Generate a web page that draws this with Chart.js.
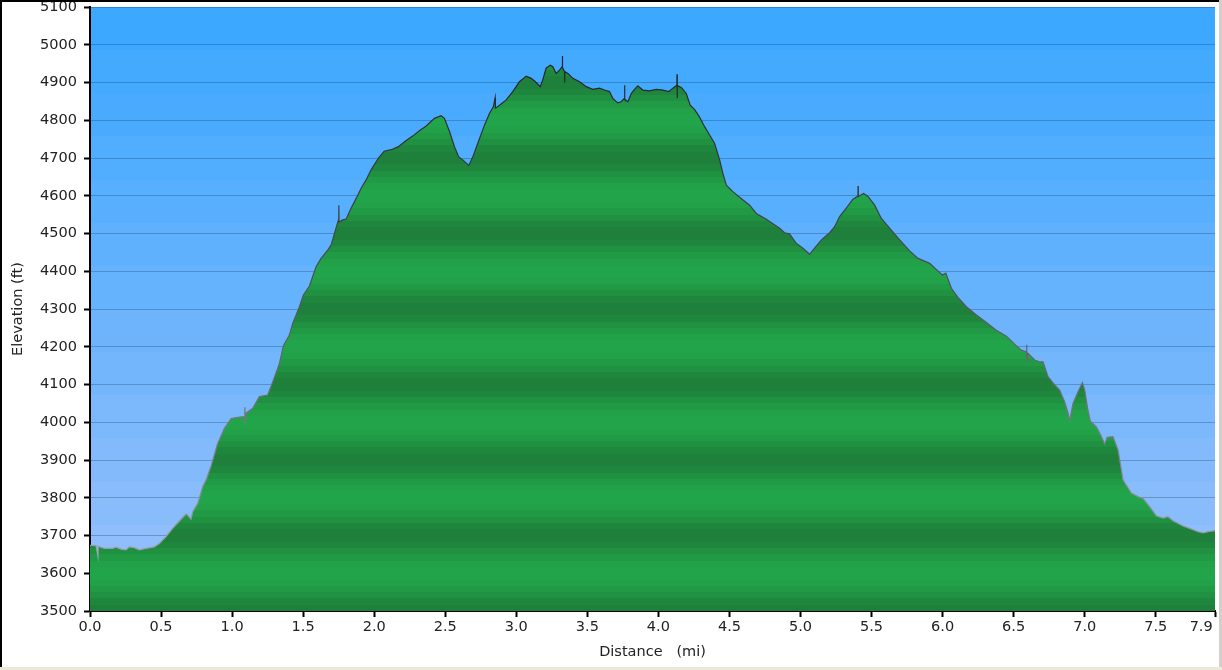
<!DOCTYPE html>
<html>
<head>
<meta charset="utf-8">
<script src="https://cdn.jsdelivr.net/npm/chart.js@4.4.1/dist/chart.umd.min.js"></script>
<style>
html,body{margin:0;padding:0;background:#fff;overflow:hidden}
#wrap{width:1222px;height:670px;position:relative}
canvas{display:block}
</style>
</head>
<body>
<div id="wrap"><canvas id="c" width="1222" height="670"></canvas></div>
<script>
// ---- data (distance in miles, elevation in feet) ----
const distanceMi = [
  0.000,0.042,0.056,0.058,0.065,0.101,0.159,0.183,0.218,0.253,0.277,0.312,0.347,0.394,0.453,0.488,
  0.535,0.582,0.641,0.676,0.687,0.711,0.723,0.758,0.793,0.817,0.852,0.898,0.946,0.993,1.040,1.086,
  1.090,1.093,1.098,1.145,1.192,1.250,1.286,1.333,1.361,1.403,1.426,1.474,1.502,1.544,1.591,1.626,
  1.673,1.697,1.727,1.750,1.751,1.753,1.778,1.802,1.837,1.873,1.908,1.943,1.980,2.030,2.070,2.120,
  2.170,2.220,2.270,2.318,2.366,2.424,2.471,2.494,2.530,2.565,2.595,2.623,2.666,2.694,2.729,2.776,
  2.811,2.839,2.851,2.853,2.882,2.929,2.975,3.022,3.070,3.105,3.140,3.168,3.186,3.210,3.239,3.257,
  3.281,3.304,3.323,3.324,3.326,3.339,3.340,3.342,3.363,3.398,3.445,3.492,3.538,3.585,3.621,3.656,
  3.679,3.714,3.738,3.761,3.762,3.764,3.785,3.809,3.832,3.855,3.890,3.937,3.985,4.031,4.074,4.102,
  4.130,4.131,4.132,4.134,4.161,4.196,4.224,4.254,4.289,4.325,4.360,4.395,4.431,4.454,4.478,4.524,
  4.571,4.642,4.689,4.759,4.853,4.888,4.923,4.970,5.017,5.064,5.099,5.147,5.205,5.240,5.275,5.322,
  5.369,5.404,5.405,5.407,5.444,5.475,5.522,5.569,5.627,5.698,5.768,5.827,5.909,5.961,5.998,6.022,
  6.062,6.108,6.167,6.238,6.308,6.378,6.449,6.507,6.554,6.590,6.591,6.593,6.601,6.648,6.683,6.707,
  6.742,6.789,6.824,6.859,6.883,6.894,6.918,6.953,6.984,7.000,7.023,7.040,7.082,7.118,7.141,7.157,
  7.199,7.235,7.270,7.329,7.375,7.411,7.458,7.505,7.551,7.586,7.621,7.692,7.739,7.798,7.833,7.868,
  7.917
];
const elevationFt = [
  3674,3673,3644,3672,3670,3666,3666,3669,3664,3662,3670,3668,3662,3666,3670,3679,
  3697,3719,3743,3757,3754,3743,3763,3785,3829,3847,3884,3944,3984,4010,4013,4015,
  4040,3995,4024,4037,4068,4072,4107,4156,4203,4231,4262,4306,4337,4361,4412,4434,
  4456,4470,4509,4538,4575,4530,4536,4538,4567,4593,4620,4642,4670,4700,4718,4722,
  4730,4745,4758,4772,4785,4805,4812,4805,4770,4730,4703,4695,4680,4703,4739,4787,
  4818,4836,4860,4832,4840,4854,4876,4902,4917,4911,4900,4889,4907,4938,4946,4942,
  4924,4933,4942,4970,4940,4929,4900,4929,4924,4911,4902,4889,4882,4885,4880,4876,
  4858,4846,4849,4858,4893,4856,4849,4871,4882,4891,4880,4878,4882,4880,4876,4885,
  4893,4922,4858,4892,4887,4871,4840,4829,4809,4783,4761,4739,4695,4659,4628,4611,
  4596,4575,4553,4538,4514,4502,4499,4474,4461,4445,4461,4483,4502,4518,4545,4567,
  4591,4599,4626,4598,4606,4598,4575,4540,4514,4483,4454,4434,4421,4403,4390,4395,
  4355,4331,4306,4284,4264,4244,4228,4207,4191,4186,4205,4160,4183,4165,4160,4160,
  4121,4099,4085,4054,4024,4004,4050,4081,4105,4085,4032,4003,3988,3962,3942,3960,
  3962,3926,3847,3812,3803,3798,3776,3752,3746,3750,3739,3725,3719,3710,3707,3710,
  3713
];
const xTickValues = [0,0.5,1,1.5,2,2.5,3,3.5,4,4.5,5,5.5,6,6.5,7,7.5,7.917];
const xTickLabels = ['0.0','0.5','1.0','1.5','2.0','2.5','3.0','3.5','4.0','4.5','5.0','5.5','6.0','6.5','7.0','7.5','7.9      '];
const yMin = 3500, yMax = 5100, yStep = 100;
const xTitle = 'Distance   (mi)';
const yTitle = 'Elevation (ft)';

// ---- styling helpers ----
const FONT = '"DejaVu Sans", Verdana, sans-serif';
function mix(a, b, t) {
  return 'rgb(' + a.map((v, i) => Math.round(v + (b[i] - v) * t)).join(',') + ')';
}
function stepGradient(ctx, y0, y1, steps, colorAt) {
  const g = ctx.createLinearGradient(0, y0, 0, y1);
  for (let i = 0; i < steps; i++) {
    const c = colorAt((i + 0.5) / steps);
    g.addColorStop(i / steps, c);
    g.addColorStop((i + 1) / steps, c);
  }
  return g;
}
const GREEN_DARK = [30, 126, 58], GREEN_LIGHT = [34, 166, 74];
const SKY_BOTTOM = [154, 192, 250], SKY_TOP = [56, 167, 255];

let cache = {};
function areaKey(a) { return [a.left, a.top, a.right, a.bottom].join(','); }

function fillGradient(context) {
  const chart = context.chart;
  const area = chart.chartArea;
  if (!area) return 'rgb(31,140,64)';
  const k = 'f' + areaKey(area);
  if (!cache[k]) {
    const ys = chart.scales.y;
    const pb = ys.getPixelForValue(yMin), pt = ys.getPixelForValue(yMax);
    const steps = (yMax - yMin) / 200 * 12;
    cache[k] = stepGradient(chart.ctx, pb, pt, steps, f => {
      const e = yMin + f * (yMax - yMin);
      const c = (1 - Math.cos(2 * Math.PI * (e - yMin) / 200)) / 2;
      const t = Math.pow(c, 0.8);
      return mix(GREEN_DARK, GREEN_LIGHT, t);
    });
  }
  return cache[k];
}
function lineGradient(context) {
  const chart = context.chart;
  const area = chart.chartArea;
  if (!area) return '#333';
  const k = 'l' + areaKey(area);
  if (!cache[k]) {
    const g = chart.ctx.createLinearGradient(0, area.top, 0, area.bottom);
    g.addColorStop(0, '#15181e');
    g.addColorStop(0.45, '#4a4f58');
    g.addColorStop(1, '#aab0bc');
    cache[k] = g;
  }
  return cache[k];
}

const skyPlugin = {
  id: 'sky',
  beforeDraw(chart) {
    const {ctx, chartArea: a, width, height} = chart;
    ctx.save();
    ctx.fillStyle = '#ffffff';
    ctx.fillRect(0, 0, width, height);
    const g = stepGradient(ctx, a.bottom, a.top, 14, f => mix(SKY_BOTTOM, SKY_TOP, f));
    ctx.fillStyle = g;
    ctx.fillRect(a.left, a.top, a.right - a.left, a.bottom - a.top);
    ctx.restore();
  },
  afterDraw(chart) {
    const {ctx, width, height} = chart;
    ctx.save();
    ctx.fillStyle = '#ece9d8';
    ctx.fillRect(0, height - 3, width, 3);
    ctx.fillStyle = '#d4d0c8';
    ctx.fillRect(width - 3, 0, 3, height - 3);
    ctx.fillStyle = '#000';
    ctx.fillRect(0, 0, width - 3, 2);
    ctx.fillRect(0, 0, 2, height - 3);
    ctx.restore();
  }
};

const points = distanceMi.map((d, i) => ({x: d, y: elevationFt[i]}));

new Chart(document.getElementById('c'), {
  type: 'line',
  data: {
    datasets: [{
      data: points,
      fill: 'start',
      backgroundColor: fillGradient,
      borderColor: lineGradient,
      borderWidth: 1.2,
      pointRadius: 0,
      tension: 0
    }]
  },
  options: {
    responsive: false,
    animation: false,
    devicePixelRatio: 1,
    layout: {padding: {top: 7, right: 7, left: 0, bottom: 0}},
    plugins: {legend: {display: false}, tooltip: {enabled: false}},
    scales: {
      x: {
        type: 'linear',
        min: 0,
        max: xTickValues[xTickValues.length - 1],
        z: 1,
        afterBuildTicks(scale) { scale.ticks = xTickValues.map(v => ({value: v})); },
        afterFit(scale) { scale.height = 59; scale.paddingLeft = 0; scale.paddingRight = 0; scale.paddingTop = 0; scale.paddingBottom = 0; },
        ticks: {
          autoSkip: false, maxRotation: 0, minRotation: 0, padding: 2,
          color: '#222', font: {family: FONT, size: 14.5},
          callback(v, i) { return xTickLabels[i]; }
        },
        grid: {drawOnChartArea: false, drawTicks: true, tickLength: 6, tickWidth: 2, tickColor: '#000', color: '#000'},
        border: {display: true, color: '#000', width: 2},
        title: {display: true, text: xTitle, color: '#222', font: {family: FONT, size: 14.5}, padding: {top: 0, bottom: 9}}
      },
      y: {
        type: 'linear',
        min: yMin,
        max: yMax,
        z: 1,
        afterFit(scale) { scale.width = 90; scale.paddingLeft = 0; scale.paddingRight = 0; scale.paddingTop = 0; scale.paddingBottom = 0; },
        ticks: {
          stepSize: yStep, padding: 7, color: '#222', font: {family: FONT, size: 14.5},
          callback(v) { return String(v); }
        },
        grid: {drawOnChartArea: true, color: 'rgba(20,55,90,0.3)', lineWidth: 1, drawTicks: true, tickLength: 6, tickWidth: 2, tickColor: '#000'},
        border: {display: true, color: '#000', width: 2},
        title: {display: true, text: yTitle, color: '#222', font: {family: FONT, size: 14.5}, padding: {top: 10, bottom: 0}}
      }
    }
  },
  plugins: [skyPlugin]
});
</script>
</body>
</html>
